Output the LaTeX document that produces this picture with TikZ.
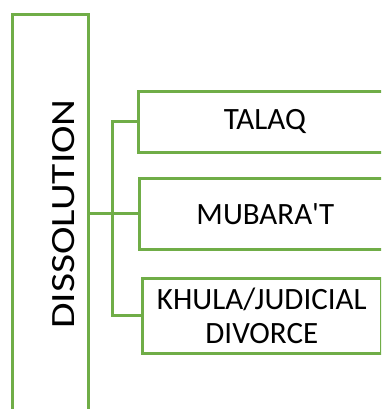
\documentclass[tikz,border=0pt]{standalone}
\usepackage{fontspec}
\setmainfont{Carlito}[Ligatures=TeXOff]
\definecolor{boxgreen}{HTML}{70AD47}
\begin{document}
\begin{tikzpicture}[x=1pt,y=1pt,
  box/.style={draw=boxgreen, line width=2.6pt, fill=white, anchor=north west,
    inner sep=0pt, font=\fontsize{31}{34}\selectfont, align=center},
  link/.style={draw=boxgreen, line width=2.6pt}]
\useasboundingbox (0,0) rectangle (381,409);
\clip (0,0) rectangle (381,409);
\node[box, minimum width=76pt, minimum height=420pt] (root) at (11,396) {};
\node[rotate=90, inner sep=0pt, font=\fontsize{34}{40}\selectfont] (rootlabel) at (64,195) {\scalebox{1.22}[1]{DISSOLUTION}};
\node[box, minimum width=253pt, minimum height=61pt] (tal) at (137,319) {TALAQ};
\node[box, minimum width=252pt, minimum height=71pt] (mub) at (138,232) {MUBARA'T};
\node[box, minimum width=239pt, minimum height=75pt] (kh) at (141,132) {KHULA/JUDICIAL\\DIVORCE};
\coordinate (j) at (112.5,200);
\draw[link] (mub.west -| root.east) -- (mub.west);
\draw[link] (tal.west) -- (tal.west -| j) -- (kh.west -| j) -- (kh.west);
\end{tikzpicture}
\end{document}
